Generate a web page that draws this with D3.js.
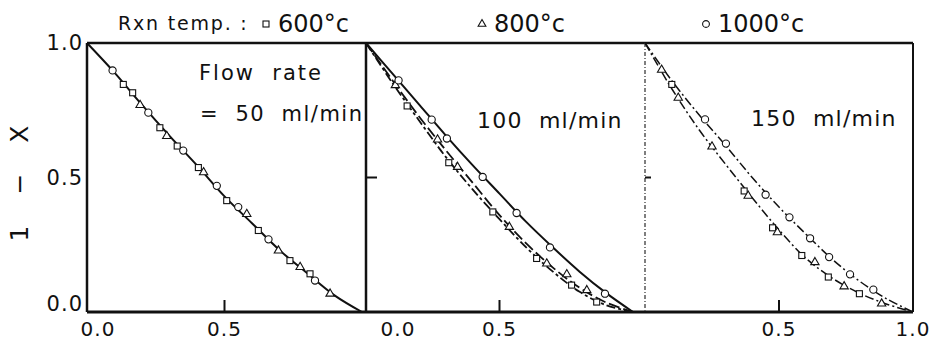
<!DOCTYPE html>
<html>
<head>
<meta charset="utf-8">
<script src="https://cdn.jsdelivr.net/npm/d3@7"></script>
<style>
  body { margin: 0; background: #fff; }
  svg text { font-family: "DejaVu Sans", sans-serif; fill: #111; white-space: pre; }
</style>
</head>
<body>
<script>
var width = 934,
    height = 342;

// legend / labels
var legendTitle = 'Rxn temp. :';
var legendLabels = ['600°c', '800°c', '1000°c'];
var panelLabels = [['Flow  rate', '=  50  ml/min'], ['100  ml/min'], ['150  ml/min']];
var yTickValues = [0, 0.5, 1];
var xTickValues = [[0, 0.5], [0, 0.5], [0.5, 1]];

// fitted curves read at x = 0, 0.1, ... 1.0
var curveX = [0, 0.1, 0.2, 0.3, 0.4, 0.5, 0.6, 0.7, 0.8, 0.9, 1.0];
var p1Curve = [1, 0.89, 0.77, 0.655, 0.545, 0.43, 0.33, 0.23, 0.145, 0.062, 0];
var p2Curve600 = [1, 0.85, 0.71, 0.575, 0.455, 0.345, 0.24, 0.15, 0.075, 0.025, 0];
var p2Curve800 = [1, 0.86, 0.725, 0.6, 0.48, 0.36, 0.255, 0.165, 0.09, 0.035, 0];
var p2Curve1000 = [1, 0.885, 0.77, 0.655, 0.545, 0.44, 0.335, 0.24, 0.15, 0.07, 0];
var p3CurveLow = [1, 0.83, 0.68, 0.55, 0.425, 0.305, 0.2, 0.125, 0.07, 0.03, 0];
var p3CurveHigh = [1, 0.86, 0.735, 0.62, 0.5, 0.39, 0.29, 0.195, 0.115, 0.05, 0];

// measured points, 50 ml/min
var p1SqX = [0.132, 0.166, 0.265, 0.328, 0.405, 0.508, 0.623, 0.738, 0.811];
var p1SqY = [0.846, 0.815, 0.685, 0.617, 0.537, 0.414, 0.303, 0.191, 0.142];
var p1TriX = [0.193, 0.29, 0.424, 0.581, 0.696, 0.775, 0.884];
var p1TriY = [0.769, 0.654, 0.519, 0.364, 0.228, 0.167, 0.068];
var p1CircX = [0.093, 0.223, 0.35, 0.472, 0.55, 0.66, 0.829];
var p1CircY = [0.898, 0.741, 0.6, 0.469, 0.39, 0.27, 0.117];

// 100 ml/min
var p2SqX = [0.154, 0.31, 0.475, 0.639, 0.77, 0.864];
var p2SqY = [0.766, 0.555, 0.372, 0.199, 0.10, 0.037];
var p2TriX = [0.11, 0.268, 0.343, 0.537, 0.677, 0.752, 0.827];
var p2TriY = [0.843, 0.641, 0.539, 0.316, 0.18, 0.14, 0.081];
var p2CircX = [0.122, 0.246, 0.303, 0.437, 0.564, 0.689, 0.895];
var p2CircY = [0.861, 0.715, 0.645, 0.502, 0.368, 0.24, 0.068];

// 150 ml/min
var p3SqX = [0.1, 0.37, 0.476, 0.585, 0.684, 0.8];
var p3SqY = [0.846, 0.45, 0.313, 0.21, 0.13, 0.068];
var p3TriX = [0.062, 0.124, 0.25, 0.385, 0.494, 0.634, 0.743, 0.883];
var p3TriY = [0.9, 0.796, 0.615, 0.432, 0.296, 0.185, 0.095, 0.031];
var p3CircX = [0.224, 0.302, 0.45, 0.539, 0.616, 0.687, 0.765, 0.852];
var p3CircY = [0.716, 0.626, 0.436, 0.352, 0.274, 0.204, 0.14, 0.083];

var svg = d3.select('body').append('svg')
    .attr('width', width)
    .attr('height', height);

var y = d3.scaleLinear().domain([0, 1]).range([312, 43]);

var xs = [
  d3.scaleLinear().domain([0, 1]).range([87, 362]),
  d3.scaleLinear().domain([0, 1]).range([366, 633]),
  d3.scaleLinear().domain([0, 1]).range([645, 913])
];

function zip(a, b) {
  return a.map(function(v, i) { return [v, b[i]]; });
}

var panels = [
  { curves: [{ pts: zip(curveX, p1Curve), dash: null, w: 2 }],
    sq: zip(p1SqX, p1SqY), tri: zip(p1TriX, p1TriY), circ: zip(p1CircX, p1CircY), zeroShift: 11 },
  { curves: [{ pts: zip(curveX, p2Curve1000), dash: null, w: 2 },
             { pts: zip(curveX, p2Curve800), dash: '11,4', w: 1.8 },
             { pts: zip(curveX, p2Curve600), dash: '9,3,3,3', w: 1.8 }],
    sq: zip(p2SqX, p2SqY), tri: zip(p2TriX, p2TriY), circ: zip(p2CircX, p2CircY), zeroShift: 32 },
  { curves: [{ pts: zip(curveX, p3CurveHigh), dash: '9,3,2,3', w: 1.5 },
             { pts: zip(curveX, p3CurveLow), dash: '9,3,2,3', w: 1.5 }],
    sq: zip(p3SqX, p3SqY), tri: zip(p3TriX, p3TriY), circ: zip(p3CircX, p3CircY), zeroShift: 0 }
];

// frame: top and bottom run across all three panels
svg.append('line')
    .attr('x1', xs[0](0)).attr('x2', xs[2](1))
    .attr('y1', y(1)).attr('y2', y(1))
    .attr('stroke', '#111').attr('stroke-width', 2.5);
svg.append('line')
    .attr('x1', xs[0](0)).attr('x2', xs[2](1))
    .attr('y1', y(0)).attr('y2', y(0))
    .attr('stroke', '#111').attr('stroke-width', 3);

// left edges of each panel + right edge
var edges = [
  { x: xs[0](0), w: 2.5, dash: null, c: '#111' },
  { x: xs[1](0), w: 2.5, dash: null, c: '#111' },
  { x: xs[2](0), w: 1.5, dash: '4,2,1,2', c: '#555' },
  { x: xs[2](1), w: 2, dash: null, c: '#111' }
];
svg.selectAll('.edge').data(edges).enter().append('line')
    .attr('class', 'edge')
    .attr('x1', function(d){ return d.x; }).attr('x2', function(d){ return d.x; })
    .attr('y1', y(1)).attr('y2', y(0))
    .attr('stroke', function(d){ return d.c; })
    .attr('stroke-width', function(d){ return d.w; })
    .attr('stroke-dasharray', function(d){ return d.dash; });

var line = d3.line().curve(d3.curveCatmullRom);

panels.forEach(function(p, i) {
  var x = xs[i];
  var g = svg.append('g');
  line.x(function(d){ return x(d[0]); }).y(function(d){ return y(d[1]); });

  p.curves.forEach(function(c) {
    g.append('path')
        .attr('d', line(c.pts))
        .attr('fill', 'none')
        .attr('stroke', '#111')
        .attr('stroke-width', c.w)
        .attr('stroke-dasharray', c.dash);
  });

  g.selectAll('.sq').data(p.sq).enter().append('rect')
      .attr('x', function(d){ return x(d[0]) - 3; })
      .attr('y', function(d){ return y(d[1]) - 3; })
      .attr('width', 6).attr('height', 6)
      .attr('fill', '#fff').attr('stroke', '#111').attr('stroke-width', 1.1);

  g.selectAll('.tri').data(p.tri).enter().append('path')
      .attr('transform', function(d){ return 'translate(' + x(d[0]) + ',' + y(d[1]) + ')'; })
      .attr('d', d3.symbol().type(d3.symbolTriangle).size(30))
      .attr('fill', '#fff').attr('stroke', '#111').attr('stroke-width', 1.1);

  g.selectAll('.circ').data(p.circ).enter().append('circle')
      .attr('cx', function(d){ return x(d[0]); })
      .attr('cy', function(d){ return y(d[1]); })
      .attr('r', 3.6)
      .attr('fill', '#fff').attr('stroke', '#111').attr('stroke-width', 1.1);

  // x ticks + labels
  g.selectAll('.xt').data(xTickValues[i]).enter().append('line')
      .attr('x1', function(d){ return x(d); }).attr('x2', function(d){ return x(d); })
      .attr('y1', y(0)).attr('y2', y(0) - 12)
      .attr('stroke', '#111').attr('stroke-width', function(d){ return d > 0 && d < 1 ? 2 : 0; });
  g.selectAll('.xl').data(xTickValues[i]).enter().append('text')
      .attr('x', function(d){ return x(d) + (d === 0 ? p.zeroShift : 0); })
      .attr('y', 336)
      .attr('text-anchor', 'middle')
      .attr('font-size', 20)
      .attr('letter-spacing', 1)
      .text(function(d){ return d3.format('.1f')(d); });

  // y tick at 0.5 on inner panels
  if (i > 0) {
    g.append('line')
        .attr('x1', x(0)).attr('x2', x(0) + (i === 1 ? 11 : 6))
        .attr('y1', y(0.5)).attr('y2', y(0.5))
        .attr('stroke', '#111').attr('stroke-width', 2);
  }
});

// y tick labels
svg.selectAll('.yl').data(yTickValues).enter().append('text')
    .attr('x', 83)
    .attr('y', function(d){ return y(d) + (d === 0 ? -1 : 7); })
    .attr('text-anchor', 'end')
    .attr('font-size', 21)
    .attr('letter-spacing', 1)
    .text(function(d){ return d3.format('.1f')(d); });

// y axis title
svg.append('text')
    .attr('transform', 'translate(28,181) rotate(-90)')
    .attr('text-anchor', 'middle')
    .attr('font-size', 25)
    .attr('letter-spacing', 5)
    .text('1  \u2212  X');

// panel labels
svg.append('text').attr('x', 199).attr('y', 80).attr('font-size', 21).attr('letter-spacing', 2).text(panelLabels[0][0]);
svg.append('text').attr('x', 200).attr('y', 121).attr('font-size', 21).attr('letter-spacing', 1.5).text(panelLabels[0][1]);
svg.append('text').attr('x', 477).attr('y', 128).attr('font-size', 22).attr('letter-spacing', 1.2).text(panelLabels[1][0]);
svg.append('text').attr('x', 751).attr('y', 126).attr('font-size', 22).attr('letter-spacing', 1.2).text(panelLabels[2][0]);

// legend
svg.append('text').attr('x', 118).attr('y', 30).attr('font-size', 19).attr('letter-spacing', 1.8).text(legendTitle);

var legendX = [266, 482, 706];
var legend = svg.selectAll('.leg').data(legendLabels).enter().append('g')
    .attr('transform', function(d, i){ return 'translate(' + legendX[i] + ',24)'; });
legend.append('text')
    .attr('x', 12).attr('y', 8)
    .attr('font-size', 24)
    .text(function(d){ return d; });

legend.filter(function(d, i){ return i === 0; }).append('rect')
    .attr('x', -3).attr('y', -3).attr('width', 6).attr('height', 6)
    .attr('fill', '#fff').attr('stroke', '#111').attr('stroke-width', 1.1);
legend.filter(function(d, i){ return i === 1; }).append('path')
    .attr('d', d3.symbol().type(d3.symbolTriangle).size(26))
    .attr('fill', '#fff').attr('stroke', '#111').attr('stroke-width', 1.1);
legend.filter(function(d, i){ return i === 2; }).append('circle')
    .attr('r', 3.4)
    .attr('fill', '#fff').attr('stroke', '#111').attr('stroke-width', 1.1);
</script>
</body>
</html>
